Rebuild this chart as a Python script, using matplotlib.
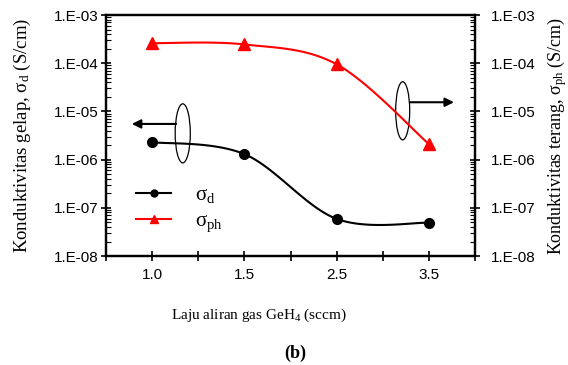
import numpy as np
import matplotlib
matplotlib.use("Agg")
from matplotlib import pyplot as plt
from matplotlib.patches import Ellipse
from matplotlib.lines import Line2D

plt.rcParams['mathtext.fontset'] = 'custom'
plt.rcParams['mathtext.rm'] = 'Liberation Serif'
plt.rcParams['mathtext.it'] = 'Liberation Serif:italic'

# GeH4 flow rate categories and measured conductivities (S/cm)
flow_labels = ['1.0', '1.5', '2.5', '3.5']
sigma_d = [2.3e-6, 1.3e-6, 5.9e-8, 4.9e-8]
sigma_ph = [2.6e-4, 2.45e-4, 9.5e-5, 2.1e-6]
y_tick_labels = ['1.E-08', '1.E-07', '1.E-06', '1.E-05', '1.E-04', '1.E-03']

serif = 'Liberation Serif'
sans = 'Liberation Sans'


def smooth_curve(x, y, n=40):
    """Bezier smoothing through the points (x, log10 y), like a spreadsheet
    'smoothed line' series."""
    px = np.asarray(x, float)
    py = np.log10(y)
    pts = np.column_stack([px, py])
    ext = np.vstack([pts[0], pts, pts[-1]])
    out = []
    t = np.linspace(0, 1, n)[:, None]
    for i in range(len(pts) - 1):
        p0, p1, p2, p3 = ext[i], ext[i + 1], ext[i + 2], ext[i + 3]
        c1 = p1 + (p2 - p0) / 6.0
        c2 = p2 - (p3 - p1) / 6.0
        seg = ((1 - t) ** 3 * p1 + 3 * (1 - t) ** 2 * t * c1
               + 3 * (1 - t) * t ** 2 * c2 + t ** 3 * p2)
        out.append(seg if i == 0 else seg[1:])
    curve = np.vstack(out)
    return curve[:, 0], 10 ** curve[:, 1]


fig = plt.figure(figsize=(5.68, 3.65), dpi=100)
ax = fig.add_axes([0.1866, 0.2986, 0.6497, 0.6603])
ax2 = ax.twinx()

xpos = np.arange(len(flow_labels)) + 0.5

sx, sy = smooth_curve(xpos, sigma_d)
ax.plot(sx, sy, color='k', lw=1.5, zorder=3)
ax.plot(xpos, sigma_d, 'o', color='k', ms=7, zorder=4)

px, py = smooth_curve(xpos, sigma_ph)
ax2.plot(px, py, color='red', lw=1.5, zorder=3)
ax2.plot(xpos, sigma_ph, '^', color='red', ms=8, zorder=4)

for a in (ax, ax2):
    a.set_yscale('log')
    a.set_ylim(1e-8, 1e-3)
    a.set_xlim(0, 4)
    a.set_yticks([10.0 ** k for k in range(-8, -2)])
    a.tick_params(axis='y', which='major', direction='inout', length=7,
                  width=1.2, labelsize=11)
    a.tick_params(axis='y', which='minor', direction='in', length=3.5,
                  width=0.8)
    for s in a.spines.values():
        s.set_linewidth(1.6)

ax.set_yticklabels(y_tick_labels, fontfamily=sans)
ax2.set_yticklabels(y_tick_labels, fontfamily=sans)
ax.tick_params(axis='y', which='major', pad=2)
ax2.tick_params(axis='y', which='major', pad=8)

ax.set_xticks(xpos)
ax.set_xticklabels(flow_labels, fontfamily=sans, fontsize=11)
ax.set_xticks(np.arange(0, 4.01, 1.0), minor=True)
ax.tick_params(axis='x', which='both', direction='inout', length=7,
               width=1.2, pad=5, top=False)

ax.set_ylabel(r'Konduktivitas gelap, σ$_{\mathrm{d}}$ (S/cm)',
              fontfamily=serif, fontsize=13.5)
ax2.set_ylabel(r'Konduktivitas terang, σ$_{\mathrm{ph}}$ (S/cm)',
               fontfamily=serif, fontsize=13)
ax.yaxis.set_label_coords(-0.198, 0.5)
ax2.yaxis.set_label_coords(1.19, 0.5)

fig.text(0.455, 0.137, r'Laju aliran gas GeH$_{4}$ (sccm)',
         fontfamily=serif, fontsize=11, ha='center', va='center')
fig.text(0.52, 0.033, '(b)', fontfamily=serif, fontsize=13,
         fontweight='bold', ha='center', va='center')

# axis pointers: ellipse around each curve with an arrow to its axis
ax.add_patch(Ellipse((0.208, 0.509), 0.041, 0.245, transform=ax.transAxes,
                     fill=False, ec='k', lw=0.9, zorder=5))
ax.annotate('', xy=(0.07, 0.548), xytext=(0.19, 0.548),
            xycoords='axes fraction', textcoords='axes fraction',
            arrowprops=dict(arrowstyle='-|>', color='k', lw=1.5,
                            mutation_scale=13, shrinkA=0, shrinkB=0))
ax.add_patch(Ellipse((0.804, 0.6025), 0.038, 0.241, transform=ax.transAxes,
                     fill=False, ec='k', lw=0.9, zorder=5))
ax.annotate('', xy=(0.943, 0.638), xytext=(0.824, 0.638),
            xycoords='axes fraction', textcoords='axes fraction',
            arrowprops=dict(arrowstyle='-|>', color='k', lw=1.5,
                            mutation_scale=13, shrinkA=0, shrinkB=0))

handles = [Line2D([], [], color='k', lw=1.5, marker='o', ms=5),
           Line2D([], [], color='red', lw=1.5, marker='^', ms=6)]
leg = ax2.legend(handles, [r'σ$_{\mathrm{d}}$', r'σ$_{\mathrm{ph}}$'],
                 loc='upper left', bbox_to_anchor=(0.03, 0.37),
                 frameon=False, handlelength=1.7, handletextpad=1.15,
                 labelspacing=0.3, prop={'family': serif, 'size': 15})

fig.savefig('out.png', dpi=100)
